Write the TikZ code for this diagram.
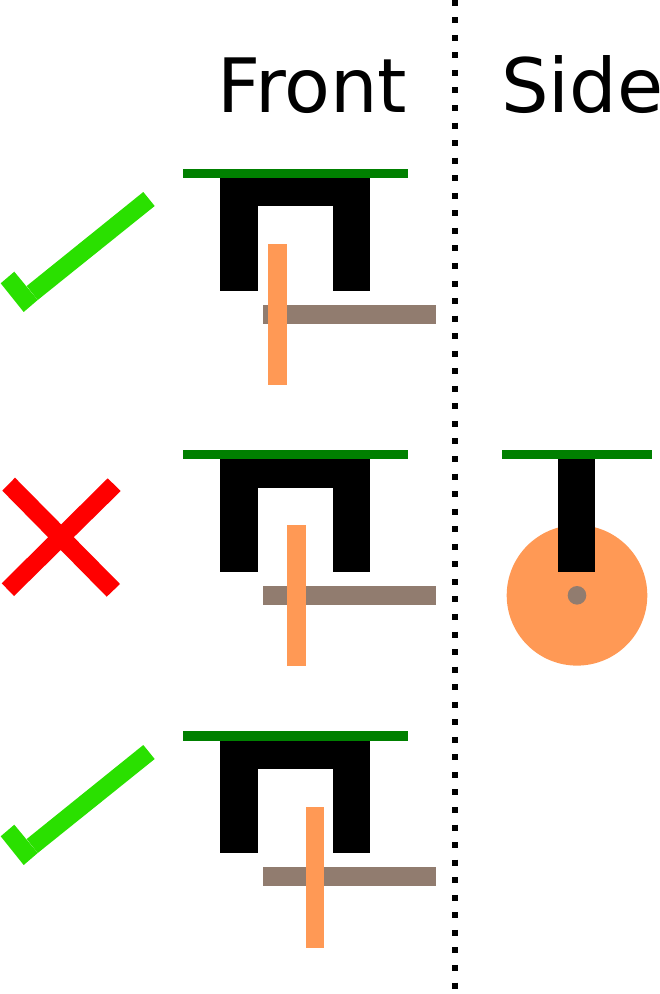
\documentclass[tikz,border=0pt]{standalone}
\usepackage{fontspec}
\setmainfont{DejaVu Sans}
\definecolor{boardgreen}{HTML}{008000}
\definecolor{tickgreen}{HTML}{2AE000}
\definecolor{wheelorange}{HTML}{FF9955}
\definecolor{axlebrown}{HTML}{917C6F}
\tikzset{
    board/.style={fill=boardgreen},
    bracket/.style={fill=black},
    wheel/.style={fill=wheelorange},
    axle/.style={fill=axlebrown},
    tick/.style={fill=tickgreen},
    cross/.style={fill=red},
    heading/.style={anchor=base west, inner sep=0pt, font=\fontsize{75}{75}\selectfont},
    divider/.style={line width=6pt, dash pattern=on 6pt off 11.55pt}
}
\begin{document}
\begin{tikzpicture}[x=1pt, y=-1pt]
    \useasboundingbox (0, 0) rectangle (660, 994);
    \node [heading] (front) at (217.2, 112) {Front};
    \node [heading] (side) at (501, 112) {Side};
    % divider
    \coordinate (divtop) at (454.7, -0.3);
    \coordinate (divbottom) at (454.7, 989);
    \draw [divider] (divtop) to (divbottom);
    % top row (good)
    \fill [tick] (26.7, 286) -- (143.3, 192) -- (154.7, 206) -- (37.7, 300) -- cycle;
    \fill [tick] (0.7, 283.3) -- (14.3, 271.7) -- (37.7, 300) -- (23.7, 312) -- cycle;
    \fill [board] (183, 168.7) rectangle (408, 178);
    \fill [bracket] (220.3, 178) rectangle (370.3, 206.3);
    \fill [bracket] (220.3, 206.3) rectangle (257.8, 290.7);
    \fill [bracket] (333, 206.3) rectangle (370.3, 290.7);
    \fill [axle] (263, 304.7) rectangle (436, 323.7);
    \fill [wheel] (268.3, 244) rectangle (287, 385);
    % middle row (bad)
    \fill [cross] (2.3, 490.7) -- (15, 477.7) -- (120, 584) -- (106.7, 596.7) -- cycle;
    \fill [cross] (107.7, 478.3) -- (120.7, 491) -- (14, 596) -- (1.7, 583.3) -- cycle;
    \fill [board] (183, 450) rectangle (408, 459.3);
    \fill [bracket] (220.3, 459.3) rectangle (370.3, 487.6);
    \fill [bracket] (220.3, 487.6) rectangle (257.8, 572);
    \fill [bracket] (333, 487.6) rectangle (370.3, 572);
    \fill [axle] (263, 586) rectangle (436, 605);
    \fill [wheel] (287, 525.3) rectangle (305.7, 666.3);
    % bottom row (good)
    \fill [tick] (26.7, 839) -- (143.3, 745) -- (154.7, 759) -- (37.7, 853) -- cycle;
    \fill [tick] (0.7, 836.3) -- (14.3, 824.7) -- (37.7, 853) -- (23.7, 865) -- cycle;
    \fill [board] (183, 731.3) rectangle (408, 740.6);
    \fill [bracket] (220.3, 740.6) rectangle (370.3, 768.9);
    \fill [bracket] (220.3, 768.9) rectangle (257.8, 853.3);
    \fill [bracket] (333, 768.9) rectangle (370.3, 853.3);
    \fill [axle] (263, 867.3) rectangle (436, 886.3);
    \fill [wheel] (305.7, 806.6) rectangle (324.4, 947.6);
    % side view
    \fill [wheel] (577, 595.3) circle (70.3);
    \fill [axle] (577, 595.3) circle (9.3);
    \fill [board] (501.7, 450) rectangle (651.7, 459.3);
    \fill [bracket] (558, 459.3) rectangle (595.4, 487.6);
    \fill [bracket] (558, 487.6) rectangle (595.4, 572);
\end{tikzpicture}
\end{document}
